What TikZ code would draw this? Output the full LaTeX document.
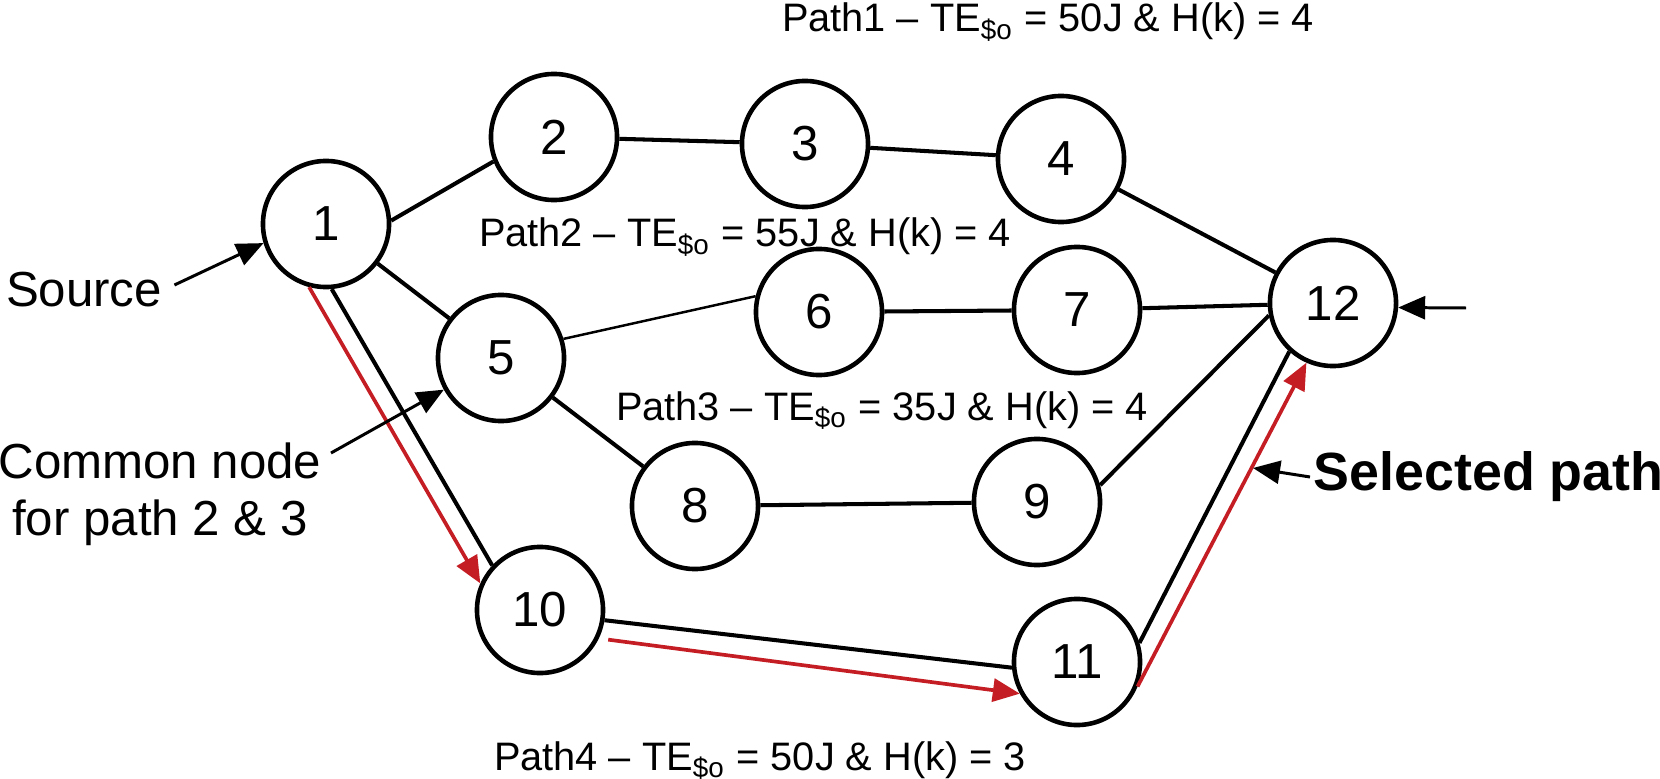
\documentclass[tikz,border=0pt]{standalone}
\usepackage{fontspec}
\setmainfont{Liberation Sans}
\usetikzlibrary{arrows.meta}
\definecolor{selred}{RGB}{196,30,36}

\begin{document}
\begin{tikzpicture}[
    x=0.01cm, y=-0.01cm,
    vertex/.style={draw, circle, line width=1.3pt, minimum size=1.26cm,
                   inner sep=0pt, font=\fontsize{14}{16}\selectfont},
    edge/.style={line width=1.15pt},
    arrow/.style={-{Triangle[length=2.7mm, width=2.3mm]}, line width=0.85pt},
    selarrow/.style={-{Triangle[length=2.7mm, width=2.3mm]}, line width=1.05pt, selred},
    pathlabel/.style={anchor=base, font=\fontsize{11.3}{13}\selectfont},
    note/.style={align=center, font=\fontsize{14}{16.2}\selectfont}
]
\useasboundingbox (0,0) rectangle (1660,779);

\node[vertex] (n1) at (326,224) {1};
\node[vertex] (n2) at (554,137) {2};
\node[vertex] (n3) at (805,144) {3};
\node[vertex] (n4) at (1061,159) {4};
\node[vertex] (n5) at (501,358) {5};
\node[vertex] (n6) at (819,312) {6};
\node[vertex] (n7) at (1077,310) {7};
\node[vertex] (n8) at (695,506) {8};
\node[vertex] (n9) at (1037,502) {9};
\node[vertex] (n10) at (540,610) {10};
\node[vertex] (n11) at (1077,662) {11};
\node[vertex] (n12) at (1333,303) {12};

% path labels
\node[pathlabel] (p1) at (1048,32) {Path1 -- TE\textsubscript{\$o} = 50J \& H(k) = 4};
\node[pathlabel] (p2) at (745,247) {Path2 -- TE\textsubscript{\$o} = 55J \& H(k) = 4};
\node[pathlabel] (p3) at (882,420) {Path3 -- TE\textsubscript{\$o} = 35J \& H(k) = 4};
\node[pathlabel] (p4) at (760,770) {Path4 -- TE\textsubscript{\$o} = 50J \& H(k) = 3};

% notes
\node[note, anchor=base] (src) at (84,307) {Source};
\node[note] (common) at (160,494) {Common node\\for path 2 \& 3};
\node[note, anchor=base west, inner sep=0pt, font=\fontsize{15.3}{17}\selectfont\bfseries] (selected) at (1313,490) {Selected path};
\coordinate (in12) at (1466,308);

\draw[edge] (n1.3) -- (n2.202);
\draw[edge] (n2) -- (n3);
\draw[edge] (n3) -- (n4);
\draw[edge] (n4) -- (n12);
\draw[edge] (n1) -- (n5);
\draw[edge, line width=0.7pt] (n5.17) -- (n6.166);
\draw[edge] (n6) -- (n7);
\draw[edge] (n7) -- (n12);
\draw[edge] (n5) -- (n8);
\draw[edge] (n8) -- (n9);
\draw[edge] (n9.15) -- (n12.191);
\draw[edge] (n1.275) -- (n10.137);
\draw[edge] (n10.351) -- (n11.185);
\draw[edge] (n11.17) -- (n12.228);

% selected path
\draw[selarrow] (n1.255) -- (n10.156);
\draw[selarrow] ([xshift=0.1cm]n10.333) -- (n11.209);
\draw[selarrow] (n11.338) -- (n12.246);

% pointers
\draw[arrow] (src.east |- 0,285) -- (n1.197);
\draw[arrow] (331,453) -- (n5.209);
\draw[arrow] (in12) -- (n12.-4);
\draw[arrow] ([xshift=-0.03cm]selected.west |- 0,477) -- (1253,468);
\end{tikzpicture}
\end{document}
